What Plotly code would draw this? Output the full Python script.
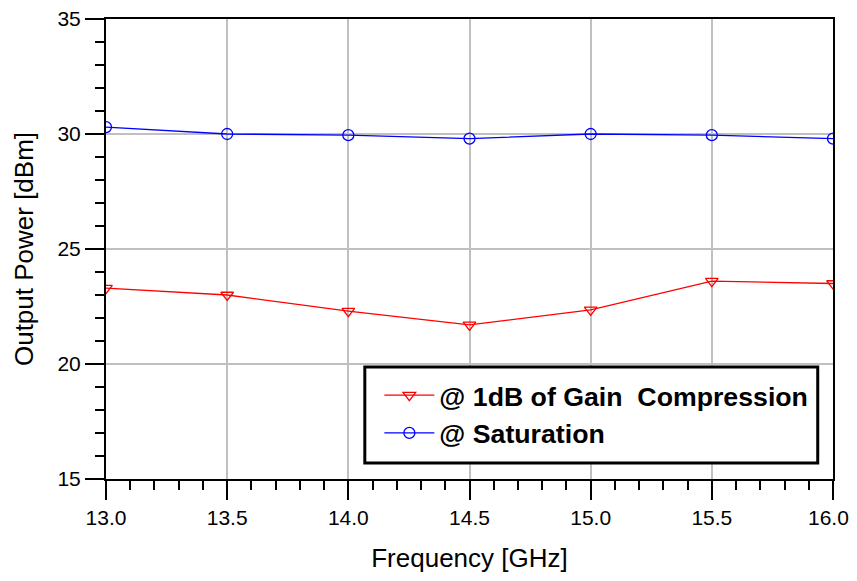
import plotly.graph_objects as go

freq = [13.0, 13.5, 14.0, 14.5, 15.0, 15.5, 16.0]
p1db = [23.3, 23.0, 22.3, 21.7, 22.35, 23.6, 23.5]
psat = [30.3, 30.0, 29.95, 29.8, 30.0, 29.95, 29.8]
x_ticks = [13.0, 13.5, 14.0, 14.5, 15.0, 15.5, 16.0]
y_ticks = [15, 20, 25, 30, 35]

fig = go.Figure()
fig.add_trace(go.Scatter(x=freq, y=p1db, mode="lines+markers", name="@ 1dB of Gain  Compression",
                         line=dict(color="red", width=1.3),
                         marker=dict(symbol="triangle-down-open", size=11, color="red", line=dict(width=1.3))))
fig.add_trace(go.Scatter(x=freq, y=psat, mode="lines+markers", name="@ Saturation",
                         line=dict(color="blue", width=1.3),
                         marker=dict(symbol="circle-open", size=11, color="blue", line=dict(width=1.3))))

# last x tick label is drawn as an annotation nudged left so it is not cut at the page edge
x_text = [f"{v:.1f}" for v in x_ticks]
x_text_axis = x_text[:-1] + [""]

fig.update_layout(
    width=849, height=565,
    margin=dict(l=98, r=24, t=11, b=94),
    plot_bgcolor="white", paper_bgcolor="white",
    font=dict(family="Liberation Sans, Arial, sans-serif", size=21, color="black"),
    showlegend=True,
    legend=dict(x=0.376, y=0.234, xanchor="left", yanchor="top",
                borderwidth=0, bgcolor="rgba(0,0,0,0)",
                font=dict(size=26.7, family="Liberation Sans, Arial, sans-serif", weight="bold"),
                itemwidth=50, tracegroupgap=0),
    shapes=[dict(type="rect", xref="paper", yref="paper",
                 x0=0.356, x1=0.979, y0=0.035, y1=0.2435,
                 line=dict(color="black", width=3), fillcolor="white", layer="above")],
    annotations=[dict(x=x_ticks[-1], y=0, xref="x", yref="paper", text=x_text[-1],
                      showarrow=False, xanchor="center", yanchor="middle",
                      xshift=-5, yshift=-38, font=dict(size=21))],
)
fig.update_xaxes(range=[13.0, 16.0], tickvals=x_ticks, ticktext=x_text_axis,
                 automargin=False, ticklabeloverflow="allow",
                 showgrid=True, gridcolor="#c0c0c0", gridwidth=1.5,
                 showline=True, linecolor="black", linewidth=2, mirror=True,
                 ticks="outside", ticklen=19, tickwidth=2, tickcolor="black",
                 minor=dict(dtick=0.1, ticks="outside", ticklen=9, tickwidth=2, tickcolor="black", showgrid=False),
                 title=dict(text="Frequency [GHz]", font=dict(size=26), standoff=30),
                 zeroline=False)
fig.update_yaxes(range=[15, 35], tickvals=y_ticks,
                 automargin=False, ticklabeloverflow="allow",
                 showgrid=True, gridcolor="#c0c0c0", gridwidth=1.5,
                 showline=True, linecolor="black", linewidth=2, mirror=True,
                 ticks="outside", ticklen=19, tickwidth=2, tickcolor="black",
                 minor=dict(dtick=1, ticks="outside", ticklen=9, tickwidth=2, tickcolor="black", showgrid=False),
                 title=dict(text="Output Power [dBm]", font=dict(size=26), standoff=16),
                 zeroline=False)

fig.write_html("out.html")
